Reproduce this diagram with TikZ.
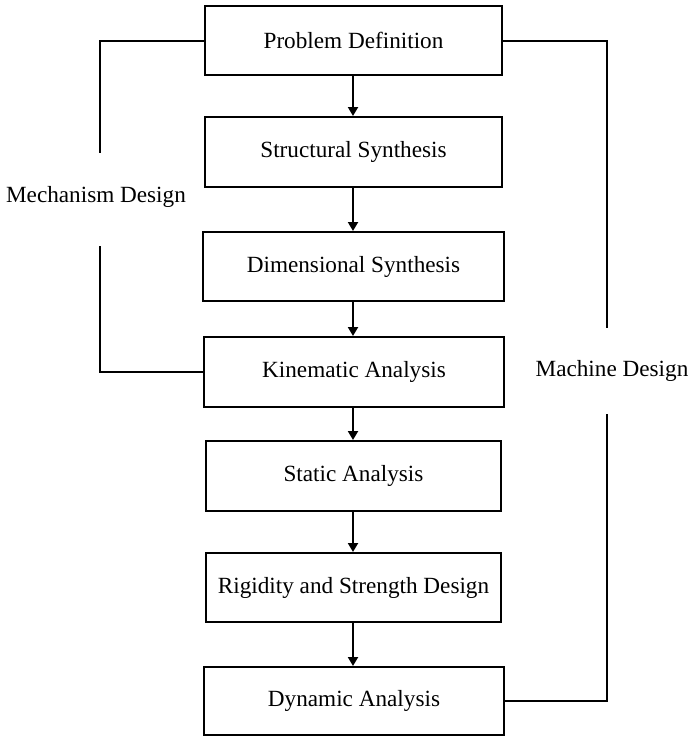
\documentclass[tikz,border=0pt]{standalone}
\usepackage{fontspec}
\setmainfont{Liberation Serif}
\usetikzlibrary{arrows.meta}
\tikzset{
  stepbox/.style={draw, line width=2pt, inner sep=0pt, align=center,
    font=\fontsize{23.2}{27}\selectfont},
  lbl/.style={inner sep=0pt, font=\fontsize{23.2}{27}\selectfont},
  flow/.style={line width=2pt, -{Triangle[length=9pt,width=10pt]}},
  brk/.style={line width=2pt}
}
\begin{document}
\begin{tikzpicture}[x=1pt,y=-1pt]
\useasboundingbox (0,0) rectangle (690,736);
\node[stepbox, minimum width=297pt, minimum height=69pt] (b1) at (353.5,40.5) {Problem Definition};
\node[stepbox, minimum width=297pt, minimum height=70pt] (b2) at (353.5,152) {Structural Synthesis};
\node[stepbox, minimum width=301pt, minimum height=69pt] (b3) at (353.5,266.5) {Dimensional Synthesis};
\node[stepbox, minimum width=300pt, minimum height=70pt] (b4) at (354,372) {Kinematic Analysis};
\node[stepbox, minimum width=295pt, minimum height=70pt] (b5) at (353.5,476) {Static Analysis};
\node[stepbox, minimum width=295pt, minimum height=69pt] (b6) at (353.5,587.5) {Rigidity and Strength Design};
\node[stepbox, minimum width=300pt, minimum height=68pt] (b7) at (354,701) {Dynamic Analysis};

\draw[flow] (b1.south -| 353,0) -- (b2.north -| 353,0);
\draw[flow] (b2.south -| 353,0) -- (b3.north -| 353,0);
\draw[flow] (b3.south -| 353,0) -- (b4.north -| 353,0);
\draw[flow] (b4.south -| 353,0) -- (b5.north -| 353,0);
\draw[flow] (b5.south -| 353,0) -- (b6.north -| 353,0);
\draw[flow] (b6.south -| 353,0) -- (b7.north -| 353,0);

\node[lbl] (mech) at (96,197) {Mechanism Design};
\node[lbl] (mach) at (612,371) {Machine Design};

\coordinate (m1) at (100,153);
\coordinate (m2) at (100,246);
\coordinate (r1) at (607,328);
\coordinate (r2) at (607,414);

\draw[brk] (b1.west) -- (b1.west -| m1) -- (m1);
\draw[brk] (m2) -- (m2 |- b4.west) -- (b4.west);
\draw[brk] (b1.east) -- (b1.east -| r1) -- (r1);
\draw[brk] (r2) -- (r2 |- b7.east) -- (b7.east);
\end{tikzpicture}
\end{document}
